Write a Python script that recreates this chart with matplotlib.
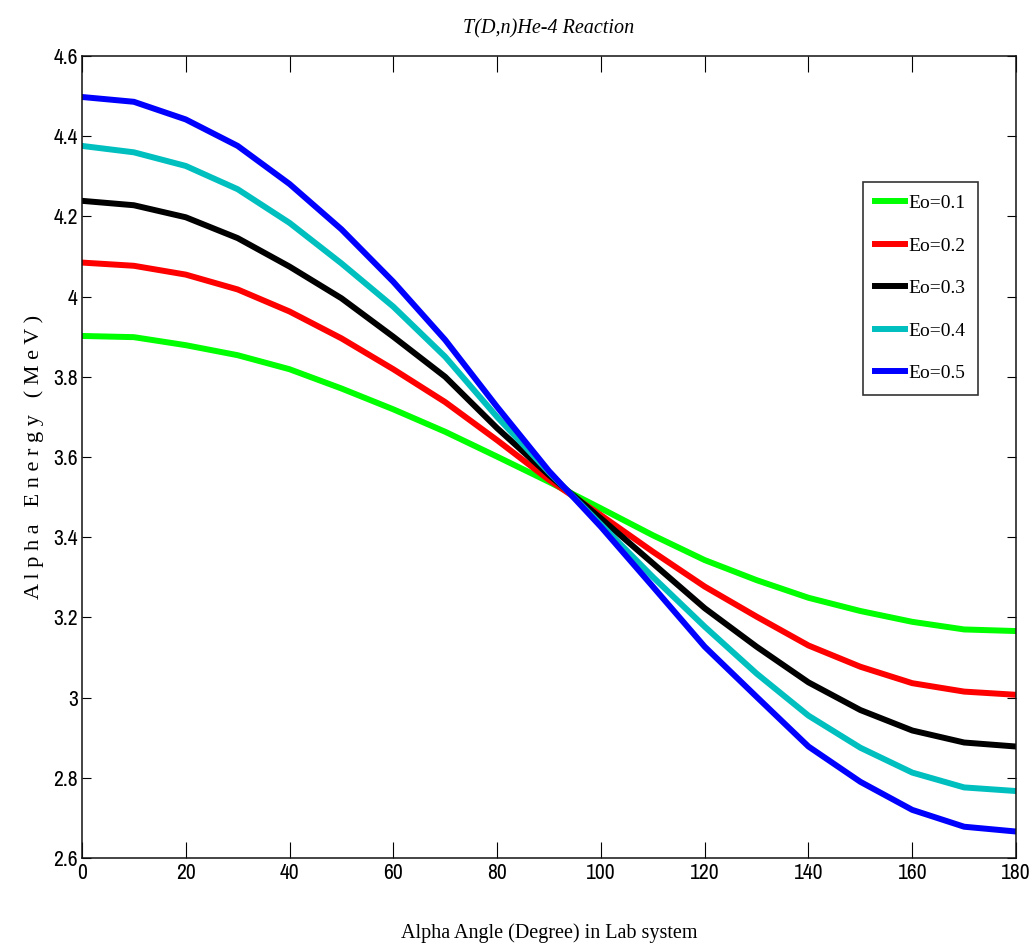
import matplotlib
matplotlib.use('Agg')
import matplotlib.pyplot as plt
import numpy as np

# alpha emission angle in lab system (degree)
angle = np.arange(0, 181, 10)

e01 = [3.902, 3.899, 3.879, 3.854, 3.819, 3.771, 3.719, 3.663, 3.601, 3.538,
       3.472, 3.405, 3.343, 3.293, 3.249, 3.216, 3.189, 3.170, 3.166]
e02 = [4.085, 4.077, 4.055, 4.018, 3.963, 3.896, 3.819, 3.737, 3.642, 3.543,
       3.455, 3.364, 3.277, 3.202, 3.130, 3.077, 3.036, 3.015, 3.007]
e03 = [4.239, 4.228, 4.198, 4.146, 4.075, 3.996, 3.900, 3.800, 3.672, 3.555,
       3.447, 3.335, 3.223, 3.127, 3.038, 2.969, 2.918, 2.888, 2.878]
e04 = [4.376, 4.360, 4.326, 4.268, 4.184, 4.083, 3.975, 3.850, 3.700, 3.562,
       3.432, 3.301, 3.177, 3.060, 2.955, 2.875, 2.813, 2.776, 2.767]
e05 = [4.498, 4.486, 4.442, 4.376, 4.281, 4.168, 4.037, 3.892, 3.725, 3.565,
       3.426, 3.277, 3.127, 3.002, 2.878, 2.790, 2.720, 2.678, 2.666]

series = [e01, e02, e03, e04, e05]
labels = ['Eo=0.1', 'Eo=0.2', 'Eo=0.3', 'Eo=0.4', 'Eo=0.5']
colors = ['#00ff00', '#ff0000', '#000000', '#00bfbf', '#0000ff']

xticks = np.arange(0, 181, 20)
yticks = [2.6, 2.8, 3, 3.2, 3.4, 3.6, 3.8, 4, 4.2, 4.4, 4.6]
yticklabels = ['2.6', '2.8', '3', '3.2', '3.4', '3.6', '3.8', '4', '4.2', '4.4', '4.6']

plt.rcParams['font.family'] = ['Archivo Narrow', 'Liberation Sans']
serif = ['Liberation Serif', 'DejaVu Serif']

fig = plt.figure(figsize=(10.31, 9.49), dpi=100)
ax = fig.add_axes([0.0795, 0.0959, 0.906, 0.845])

for y, lab, c in zip(series, labels, colors):
    ax.plot(angle, y, color=c, lw=4.3, label=lab, solid_joinstyle='round')

ax.set_xlim(0, 180)
ax.set_ylim(2.6, 4.6)
ax.set_xticks(xticks)
ax.set_yticks(yticks)
ax.set_yticklabels(yticklabels)

ax.tick_params(axis='x', direction='in', length=11.5, width=0.8, pad=3.5,
               labelsize=15.5, top=True)
ax.tick_params(axis='y', direction='in', length=6.5, width=0.8, pad=3,
               labelsize=15.5, right=True)
for sp in ax.spines.values():
    sp.set_linewidth(1.1)
    sp.set_color('#111111')

ax.set_title('T(D,n)He-4 Reaction', family=serif, style='italic', fontsize=14.5,
             y=1.028, pad=0)
ax.set_xlabel('Alpha Angle (Degree) in Lab system', family=serif, fontsize=14.5)
ax.xaxis.set_label_coords(0.5, -0.081)
ax.set_ylabel('A l p h a   E n e r g y   ( M e V )', family=serif, fontsize=16)
ax.yaxis.set_label_coords(-0.041, 0.50)

leg = ax.legend(loc='upper left', bbox_to_anchor=(0.836, 0.843), borderaxespad=0,
                prop={'family': serif, 'size': 14}, frameon=True, fancybox=False,
                labelspacing=1.28, handlelength=1.5, handletextpad=0.2,
                borderpad=0.65)
leg.get_frame().set_edgecolor('black')
leg.get_frame().set_linewidth(1.2)
for ln in leg.get_lines():
    ln.set_linewidth(4.3)

fig.savefig('out.png', dpi=100)
